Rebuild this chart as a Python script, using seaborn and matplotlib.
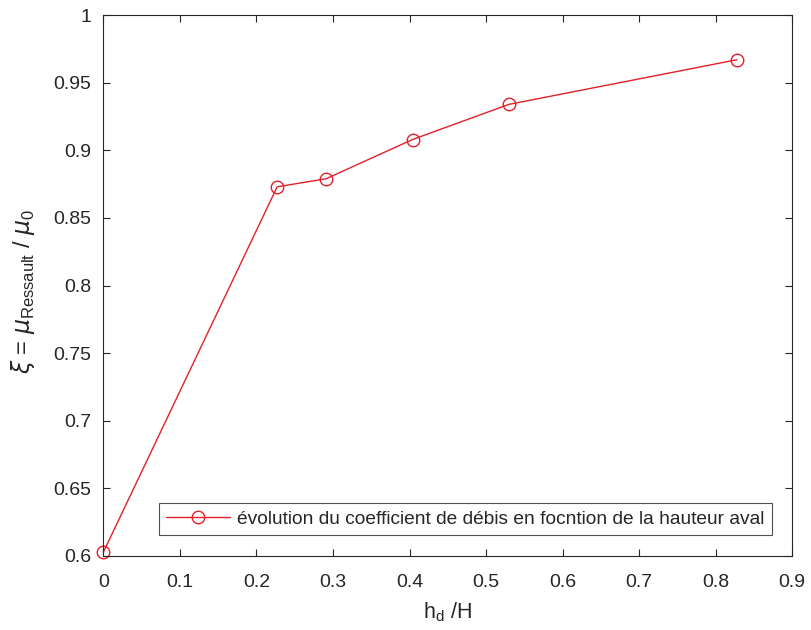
import matplotlib
matplotlib.use("Agg")
import matplotlib.pyplot as plt
import pandas as pd
import seaborn as sns

# values
hd_over_H = [0.0, 0.227, 0.291, 0.404, 0.530, 0.828]
xi = [0.603, 0.873, 0.879, 0.908, 0.934, 0.967]
x_ticks = [0, 0.1, 0.2, 0.3, 0.4, 0.5, 0.6, 0.7, 0.8, 0.9]
y_ticks = [0.6, 0.65, 0.7, 0.75, 0.8, 0.85, 0.9, 0.95, 1.0]
series_label = "évolution du coefficient de débis en focntion de la hauteur aval"

sns.set_style("ticks")
plt.rcParams['font.family'] = ['Liberation Sans', 'DejaVu Sans']
plt.rcParams['mathtext.fontset'] = 'dejavusans'

df = pd.DataFrame({'x': hd_over_H, 'y': xi})

fig = plt.figure(figsize=(8.11, 6.30), dpi=100)
ax = fig.add_axes([0.1276, 0.1175, 0.849, 0.8585])

red = '#e2202a'
txt = '#262626'
sns.lineplot(data=df, x='x', y='y', ax=ax, color=red, linewidth=1.0,
             marker='o', markersize=9, markerfacecolor='none',
             markeredgecolor=red, markeredgewidth=1.0, label=series_label)
for ln in ax.lines:
    ln.set_clip_on(False)

ax.set_xlim(0, 0.9)
ax.set_ylim(0.6, 1.0)
ax.set_xticks(x_ticks)
ax.set_xticklabels([f'{t:g}' for t in x_ticks])
ax.set_yticks(y_ticks)
ax.set_yticklabels([f'{t:g}' for t in y_ticks])
ax.tick_params(direction='in', top=True, right=True, labelsize=14,
               length=5, width=0.8, colors=txt)
ax.tick_params(axis='x', pad=13)
ax.tick_params(axis='y', pad=9)
for s in ax.spines.values():
    s.set_linewidth(0.8)
    s.set_color(txt)

ax.set_xlabel(r'h$_{\mathregular{d}}$ /H', fontsize=15.5, color=txt)
ax.set_ylabel(r'$\xi$ = $\mu_{\mathregular{Ressault}}$ / $\mu_{\mathregular{0}}$',
              fontsize=17, color=txt)
ax.xaxis.set_label_coords(0.5, -0.082)
ax.yaxis.set_label_coords(-0.097, 0.49)

leg = ax.legend(loc='lower right', bbox_to_anchor=(0.971, 0.038), borderaxespad=0,
                fontsize=13.8, frameon=True, fancybox=False, handlelength=3.3,
                handletextpad=0.4, borderpad=0.38)
leg.get_frame().set_edgecolor(txt)
leg.get_frame().set_linewidth(0.8)

fig.savefig('out.png', dpi=100, facecolor='white')
